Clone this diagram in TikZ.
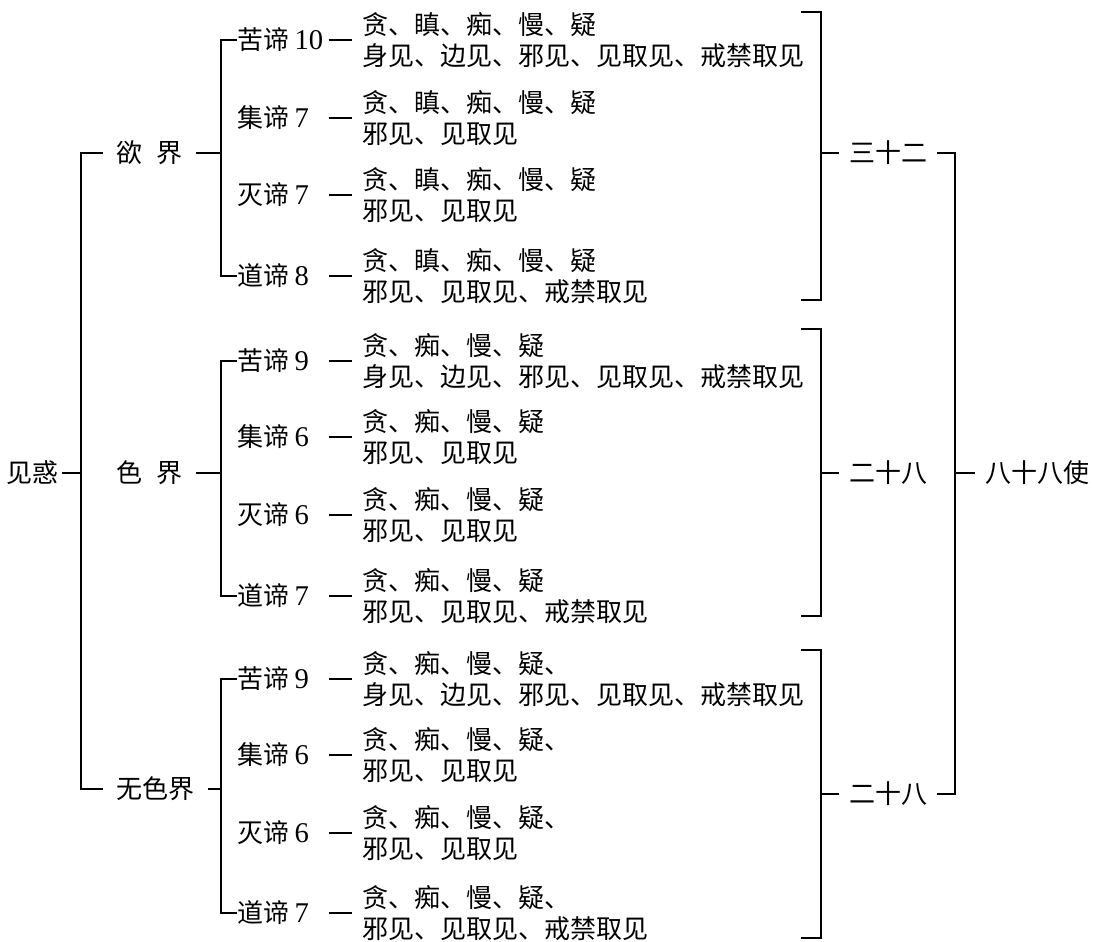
\documentclass[tikz,border=0pt]{standalone}
\usepackage{fontspec}
\setmainfont{Noto Sans CJK SC}
\newfontfamily\digitfont[Scale=1.1]{Liberation Serif}
\usepackage{tikz}

\begin{document}
\begin{tikzpicture}[x=0.75pt, y=-0.75pt,
      every node/.style={font=\fontsize{19.5pt}{23.25pt}\selectfont, inner sep=0pt},
      realm/.style={anchor=west, inner xsep=9.75pt},
      truth/.style={anchor=west, text width=68.25pt, align=left},
      detail/.style={anchor=west, align=left, inner xsep=7.5pt},
      total/.style={inner xsep=7.5pt},
      wire/.style={line width=1.4pt}
    ]
      \useasboundingbox (0,0) rectangle (1094,941);

      % left side
      \node[inner xsep=2pt] (jianhuo) at (33,473) {见惑};
      \node[realm] (yu) at (103,153) {欲\hspace{11pt}界};
      \node[realm] (se) at (103,473) {色\hspace{11pt}界};
      \node[realm] (wuse) at (103,789) {无色界};
      \coordinate (rootj) at (81,473);
      \coordinate (yuj) at (221,153);
      \coordinate (sej) at (221,473);
      \coordinate (wusej) at (221,789);

      \draw[wire] (jianhuo) -- (rootj);
      \draw[wire] (yu) -| (rootj) |- (wuse);
      \draw[wire] (yu) -- (yuj);
      \draw[wire] (se) -- (sej);
      \draw[wire] (wuse) -- (wusej);

      % 欲界
      \node[truth] (yu1) at (237,40) {苦谛\kern4pt{\digitfont 10}};
      \node[truth] (yu2) at (237,118) {集谛\kern4pt{\digitfont 7}};
      \node[truth] (yu3) at (237,195) {灭谛\kern4pt{\digitfont 7}};
      \node[truth] (yu4) at (237,276) {道谛\kern4pt{\digitfont 8}};
      \node[detail] (yu1d) at (352,40) {贪、瞋、痴、慢、疑\\身见、边见、邪见、见取见、戒禁取见};
      \node[detail] (yu2d) at (352,118) {贪、瞋、痴、慢、疑\\邪见、见取见};
      \node[detail] (yu3d) at (352,195) {贪、瞋、痴、慢、疑\\邪见、见取见};
      \node[detail] (yu4d) at (352,276) {贪、瞋、痴、慢、疑\\邪见、见取见、戒禁取见};

      \draw[wire] (yu1) -| (yuj) |- (yu4);
      \draw[wire] (yu1) -- (yu1d);
      \draw[wire] (yu2) -- (yu2d);
      \draw[wire] (yu3) -- (yu3d);
      \draw[wire] (yu4) -- (yu4d);

      % 色界
      \node[truth] (se1) at (237,361) {苦谛\kern4pt{\digitfont 9}};
      \node[truth] (se2) at (237,437) {集谛\kern4pt{\digitfont 6}};
      \node[truth] (se3) at (237,515) {灭谛\kern4pt{\digitfont 6}};
      \node[truth] (se4) at (237,596) {道谛\kern4pt{\digitfont 7}};
      \node[detail] (se1d) at (352,361) {贪、痴、慢、疑\\身见、边见、邪见、见取见、戒禁取见};
      \node[detail] (se2d) at (352,437) {贪、痴、慢、疑\\邪见、见取见};
      \node[detail] (se3d) at (352,515) {贪、痴、慢、疑\\邪见、见取见};
      \node[detail] (se4d) at (352,596) {贪、痴、慢、疑\\邪见、见取见、戒禁取见};

      \draw[wire] (se1) -| (sej) |- (se4);
      \draw[wire] (se1) -- (se1d);
      \draw[wire] (se2) -- (se2d);
      \draw[wire] (se3) -- (se3d);
      \draw[wire] (se4) -- (se4d);

      % 无色界
      \node[truth] (wu1) at (237,679) {苦谛\kern4pt{\digitfont 9}};
      \node[truth] (wu2) at (237,755) {集谛\kern4pt{\digitfont 6}};
      \node[truth] (wu3) at (237,833) {灭谛\kern4pt{\digitfont 6}};
      \node[truth] (wu4) at (237,913) {道谛\kern4pt{\digitfont 7}};
      \node[detail] (wu1d) at (352,679) {贪、痴、慢、疑、\\身见、边见、邪见、见取见、戒禁取见};
      \node[detail] (wu2d) at (352,755) {贪、痴、慢、疑、\\邪见、见取见};
      \node[detail] (wu3d) at (352,833) {贪、痴、慢、疑、\\邪见、见取见};
      \node[detail] (wu4d) at (352,913) {贪、痴、慢、疑、\\邪见、见取见、戒禁取见};

      \draw[wire] (wu1) -| (wusej) |- (wu4);
      \draw[wire] (wu1) -- (wu1d);
      \draw[wire] (wu2) -- (wu2d);
      \draw[wire] (wu3) -- (wu3d);
      \draw[wire] (wu4) -- (wu4d);

      % right side
      \node[total] (sum1) at (888,153) {三十二};
      \node[total] (sum2) at (888,473) {二十八};
      \node[total] (sum3) at (888,794) {二十八};
      \node[total, anchor=west] (all) at (975,473) {八十八使};

      \coordinate (yut) at (801,12);
      \coordinate (yub) at (801,300);
      \coordinate (yum) at (821,153);
      \coordinate (set) at (801,329);
      \coordinate (seb) at (801,616);
      \coordinate (sem) at (821,473);
      \coordinate (wut) at (801,650);
      \coordinate (wub) at (801,938);
      \coordinate (wum) at (821,794);
      \coordinate (allj) at (955,473);

      \draw[wire] (yut) -| (yum) |- (yub);
      \draw[wire] (set) -| (sem) |- (seb);
      \draw[wire] (wut) -| (wum) |- (wub);
      \draw[wire] (yum) -- (sum1);
      \draw[wire] (sem) -- (sum2);
      \draw[wire] (wum) -- (sum3);
      \draw[wire] (sum1) -| (allj) |- (sum3);
      \draw[wire] (allj) -- (all);
    \end{tikzpicture}
\end{document}
